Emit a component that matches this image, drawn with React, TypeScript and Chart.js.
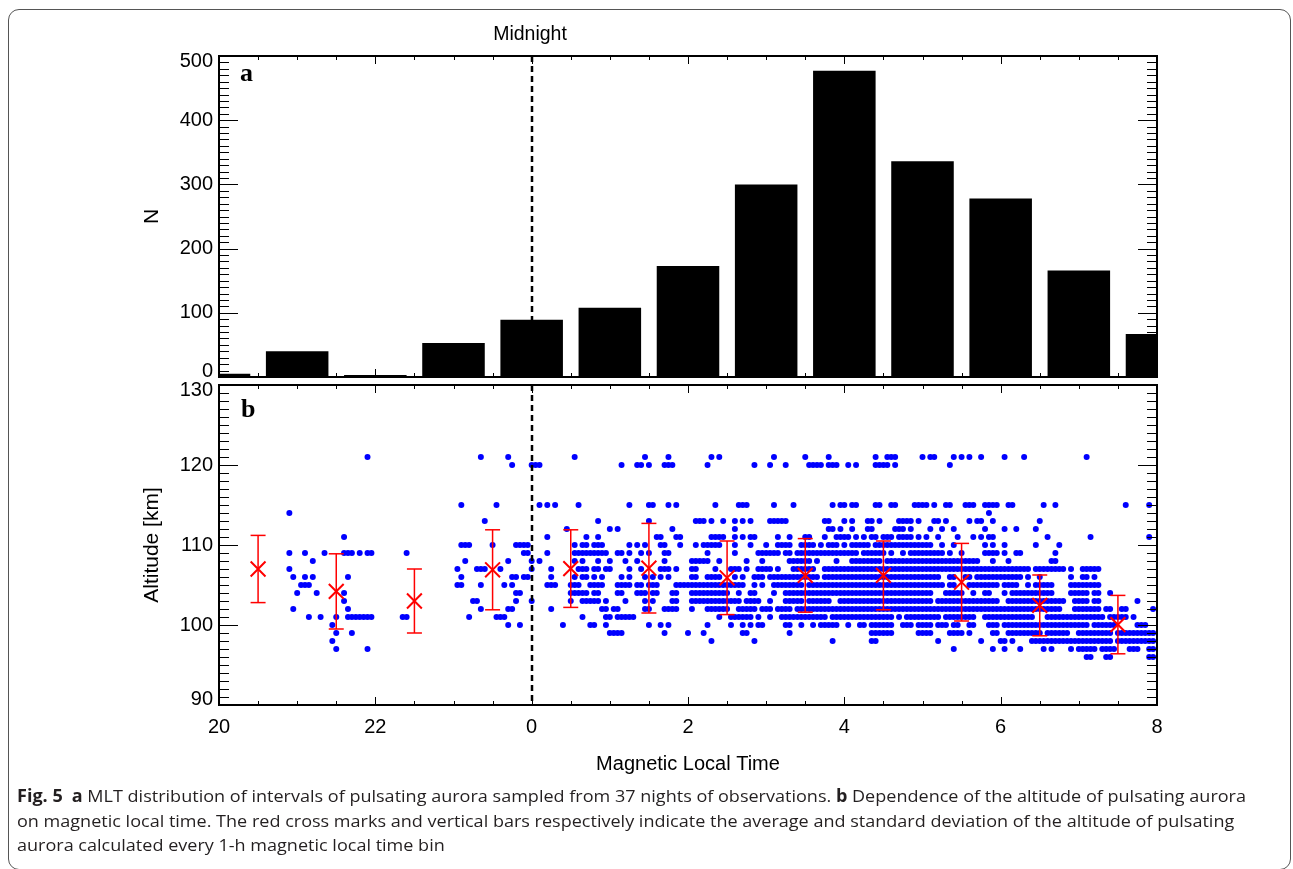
import React, { useEffect, useRef } from "react";
import { Chart, registerables } from "chart.js";

Chart.register(...registerables);

// ---------------- data ----------------
// Panel a: number of intervals per 1-h MLT bin (bins centred on integer hours, 24 = midnight)
const MLT_BINS = [20, 21, 22, 23, 24, 25, 26, 27, 28, 29, 30, 31, 32];
const INTERVAL_COUNTS = [5, 40, 3, 53, 89, 108, 173, 300, 477, 336, 278, 166, 67];

// Axis ticks
const N_TICKS = [0, 100, 200, 300, 400, 500];
const ALT_TICKS = [90, 100, 110, 120, 130];
const MLT_TICKS = [20, 22, 24, 26, 28, 30, 32];
const MLT_TICK_LABELS = ["20", "22", "0", "2", "4", "6", "8"];

// Panel b: mean altitude and standard deviation per 1-h bin
const BIN_CENTERS = [20.5, 21.5, 22.5, 23.5, 24.5, 25.5, 26.5, 27.5, 28.5, 29.5, 30.5, 31.5];
const MEAN_ALTITUDE = [107.0, 104.2, 103.0, 106.9, 107.05, 107.1, 105.9, 106.2, 106.2, 105.35, 102.45, 100.05];
const SD_ALTITUDE = [4.2, 4.7, 4.0, 5.0, 4.85, 5.6, 4.6, 4.6, 4.3, 4.85, 3.8, 3.65];

// Panel b: individual altitude samples. Each row = one altitude level;
// each row has 12 one-hour groups (20h ... 31h), 20 cells of 0.05 h each; 'o' = a dot.
const ROW_HOURS = [20, 21, 22, 23, 24, 25, 26, 27, 28, 29, 30, 31];
const DOT_CELL = 0.05;
const ALT_LEVELS = [121, 120, 115, 114, 113, 112, 111, 110, 109, 108, 107, 106, 105, 104, 103, 102, 101, 100, 99, 98, 97, 96];
const E = "....................";
const F = "oooooooooooooooooooo";
const DOT_ROWS = [
  /*121*/ [E, "..................o.", E, ".......o......o.....", "...........o........", ".........o.....o....", "......o.o...........", "..o.......o.....o...", "........o..ooo......", "o.oo....o.o.o..o....", ".o....o.............", "..o................."],
  /*120*/ [E, E, E, "...............o....", "ooo.................", "...o...oo.o...ooo...", ".....o...........o..", ".o...o.....oooo.ooo.", ".o.o....oooo.o......", ".......o............", E, E],
  /*115*/ [E, E, E, "..o........o........", "..o.o.o.....o.......", ".....o....oo...o.o..", ".......o.....ooo....", "..o....o.........o.o", "o.oo....oo..oo....oo", "oo.o..oo...ooo..oooo", "..oo.......o..o.....", "............o.....o."],
  /*114*/ ["..................o.", E, E, E, E, E, E, E, E, ".................o..", E, E],
  /*113*/ [E, E, E, "........o...........", ".................o..", "..........o.........", "..ooo.o..o..o.o.o...", ".ooooo.........oo...", "o.o...oo.o....oooo.o", "...oo.o.....o.oo..o.", "..........o.........", E],
  /*112*/ [E, E, E, E, ".........o..........", "o.o.............o...", "............o.......", "................oo.o", "..o...oo.....ooo.o..", "..o..o..o.......o...", ".o..o....o..........", E],
  /*111*/ [E, "............o.......", E, E, "....o.........o..o..", "............oo...oo.", "......oooo..o.o.oo..", "...o..o...oo...o..oo", "oo.o.o.oo.ooo.oooo.o", ".o..o....o...o.o.oo.", "............o.......", "...o..............o."],
  /*110*/ [E, E, E, "..ooo.....o.....oooo", "...........o.oo.ooo.", ".....o.o.o...oo...o.", "..o.ooooo...o...o...", "o..oooo..oooo.o.ooo.", "o.ooooo.oooooooooooo", "ooo..o..o.......o.o.", ".o.......o.....o....", E],
  /*109*/ ["..................o.", "..o....o....ooo.o.oo", "........o...........", "..................oo", "....o......ooooooooo", "..oo.o..o.o...oo....", ".....o......o.....oo", "oooo.oo.oooooooooooo", "oooo.oooooo.o..o.ooo", "oooooo.o..o.....oooo", ".o..oo........o.....", E],
  /*108*/ [E, "....o...............", E, "...o..........o.....", "o.o........o.o...o..", "o...o..o......o.....", ".ooooo..o......o...o", "......oooooo.o....o.", "..oooooooo.ooooooooo", "ooooooooooooooo...o.", "..o..........oo.....", E],
  /*107*/ ["..................o.", E, E, ".o....ooo...o.......", "o....o......ooo.oo.o", "o....o..o....ooo.o..", ".oo....o...ooo.o..oo", "oo.o...oooooo..ooooo", F, F, "oooooooo.oooooooo.o.", ".ooooo.............."],
  /*106*/ ["...................o", "..o.o........o......", E, "..o............oo.oo", ".....o.....o.oo.o.o.", "...o.o...o.o.o.o....", ".oo..oooo...o.o..ooo", ".ooooooooooooo.ooooo", F, "ooooo..oo..oo.oooooo", "oooooo.o..o.......o.", ".oo.o..............."],
  /*105*/ [E, ".ooo................", E, ".oo....o.....o.o....", "....ooo...ooo..oooo.", "..oooo.oo.ooo....ooo", "ooooooooooooooo..o.o", "..oooooooo.ooooooooo", F, "oooooo.oo...oooooooo", ".oooo..o.ooooo....oo", "oooooo.............."],
  /*104*/ [E, "o....o......o.......", E, "................oo..", "..........ooooo.oo..", "..oo...ooo.oo...oo..", ".oooooooooo..o..oo..", "..o..ooooooooooooooo", F, "ooo...ooooo..o..oo..", ".o.ooooooooooo....oo", "ooo.oo..o..........."],
  /*103*/ [E, "............o.......", E, ".....oo.........o...", "o.........o..ooooo.o", "....o....o.o....oo..", ".ooooooooooooo.oooo.", ".o...ooooo.oooooo..o", F, "ooo.oooooooooooooooo", "..ooooooooooooooo..o", "ooo.oo.........o...."],
  /*102*/ ["...................o", ".............o......", E, ".......o......oo....", ".....o............oo", ".oo......oo...oooo..", ".o...oooooo..ooooo.o", "oo.oooo.oooooooooooo", F, F, "oooooooooooooooo...o", "oooooo.oo..oo......o"],
  /*101*/ [E, "...o..o...o..ooooooo", ".......oo...........", "....o......ooo......", ".............o.....o", "o.ooooo.............", "........o..oooooo.o.", ".o..oooooooooooo.ooo", "ooooooooooooo.o.oooo", "ooooo.oooooooo..oooo", "ooooooooo...oooooooo", "ooooooo.ooooo.o....."],
  /*100*/ [E, ".........o..........", E, "..............o..o..", "........o......oo..o", "..........o..o.o....", ".....o.....o..o.o.oo", ".....oo..o..o.ooooo.", ".o..oo.oooooo..ooo.o", "ooo.ooo.oo..oo...ooo", ".ooooooooooooooooooo", "ooo.oooooo.....ooo.."],
  /* 99*/ [E, "..........o...o.....", E, E, E, "oooo..........o.....", "o...o.........oo....", "......o.............", ".......oooooo......o", "ooo....oooo.o.....oo", "..ooooooooo.oooooo..", "ooooooooo.oooooooooo"],
  /* 98*/ [E, ".........o..........", E, E, E, E, "......o..........o..", ".................o..", ".......oo...........", "....o..........o....", "oo.o....oooooooooooo", "ooooooooo.oooooooooo"],
  /* 97*/ [E, "..........o.......o.", E, E, E, E, E, E, E, "........o.........o.", ".o...o.....o.o....o.", "ooooo.oooo...ooo..oo"],
  /* 96*/ [E, E, E, E, E, E, E, E, E, E, E, "..oo...oo.........oo"],
];

// ---------------- helpers ----------------
const FONT = "'Liberation Sans', Arial, Helvetica, sans-serif";

function altitudeDots() {
  const pts: { x: number; y: number }[] = [];
  ALT_LEVELS.forEach((alt, r) => {
    DOT_ROWS[r].forEach((grp, g) => {
      for (let j = 0; j < grp.length; j++) {
        if (grp[j] === "o") pts.push({ x: ROW_HOURS[g] + j * DOT_CELL, y: alt });
      }
    });
  });
  return pts;
}

const framePlugin = {
  id: "idlFrame",
  afterDraw(chart: any, _args: any, o: any) {
    const { ctx, chartArea: a } = chart;
    const xs = chart.scales.x;
    const ys = chart.scales.y;
    ctx.save();
    ctx.strokeStyle = "#000";
    ctx.lineWidth = 1;
    ctx.beginPath();
    const ny = Math.round((o.yMax - o.yMin) / o.yMinor);
    const ry = Math.round(o.yMajor / o.yMinor);
    for (let i = 0; i <= ny; i++) {
      const p = Math.round(ys.getPixelForValue(o.yMin + i * o.yMinor)) + 0.5;
      const len = i % ry === 0 ? 19 : 10;
      ctx.moveTo(a.left, p);
      ctx.lineTo(a.left + len, p);
      ctx.moveTo(a.right, p);
      ctx.lineTo(a.right - len, p);
    }
    const nx = Math.round((o.xMax - o.xMin) / o.xMinor);
    const rx = Math.round(o.xMajor / o.xMinor);
    for (let i = 0; i <= nx; i++) {
      const p = Math.round(xs.getPixelForValue(o.xMin + i * o.xMinor)) + 0.5;
      const len = i % rx === 0 ? 8 : 4;
      ctx.moveTo(p, a.top);
      ctx.lineTo(p, a.top + len);
      ctx.moveTo(p, a.bottom);
      ctx.lineTo(p, a.bottom - len);
    }
    ctx.stroke();
    ctx.lineWidth = 2;
    ctx.strokeRect(a.left, a.top, a.right - a.left, a.bottom - a.top);
    const mx = Math.round(xs.getPixelForValue(o.midnight));
    ctx.setLineDash([6, 4]);
    ctx.lineWidth = 2.5;
    ctx.beginPath();
    ctx.moveTo(mx, a.top);
    ctx.lineTo(mx, a.bottom);
    ctx.stroke();
    ctx.restore();
  },
};

function endShiftFont(lowEnd: number, highEnd: number) {
  return (c: any) => {
    const v = c.tick ? c.tick.value : null;
    const isEnd = v === lowEnd || v === highEnd;
    return { family: FONT, size: 20, lineHeight: isEnd ? 0.55 : 1.2 };
  };
}

function endShiftLabel(lowEnd: number, highEnd: number) {
  return (v: number) => {
    if (v === highEnd) return ["", String(v)];
    if (v === lowEnd) return [String(v), ""];
    return String(v);
  };
}

function topConfig(): any {
  return {
    type: "bar",
    data: {
      datasets: [
        {
          data: MLT_BINS.map((h, i) => ({ x: h, y: INTERVAL_COUNTS[i] })),
          backgroundColor: "#000",
          borderWidth: 0,
          barPercentage: 0.8,
          categoryPercentage: 1,
          clip: 0,
        },
      ],
    },
    options: {
      animation: false,
      responsive: false,
      events: [],
      layout: { padding: { left: 135, right: 136, top: 56, bottom: 492 } },
      plugins: {
        legend: { display: false },
        tooltip: { enabled: false },
        idlFrame: { xMin: 20, xMax: 32, xMinor: 0.5, xMajor: 2, yMin: 0, yMax: 500, yMinor: 10, yMajor: 100, midnight: 24 },
      },
      scales: {
        x: { type: "linear", min: 20, max: 32, offset: false, display: false },
        y: {
          type: "linear",
          min: 0,
          max: 500,
          afterBuildTicks: (s: any) => {
            s.ticks = N_TICKS.map((v) => ({ value: v }));
          },
          afterFit: (s: any) => {
            s.width = 84;
          },
          grid: { display: false, drawTicks: false },
          border: { display: false },
          ticks: { padding: 6, color: "#000", font: endShiftFont(0, 500), callback: endShiftLabel(0, 500) },
          title: { display: true, text: "N", color: "#000", font: { family: FONT, size: 21 }, padding: { top: 5, bottom: 0 } },
        },
      },
    },
    plugins: [framePlugin],
  };
}

function bottomConfig(): any {
  const errSegments: any[] = [];
  const caps: any[] = [];
  BIN_CENTERS.forEach((c, i) => {
    const lo = MEAN_ALTITUDE[i] - SD_ALTITUDE[i];
    const hi = MEAN_ALTITUDE[i] + SD_ALTITUDE[i];
    errSegments.push({ x: c, y: lo }, { x: c, y: hi }, { x: c, y: null });
    caps.push({ x: c, y: lo }, { x: c, y: hi });
  });
  return {
    type: "scatter",
    data: {
      datasets: [
        {
          data: BIN_CENTERS.map((c, i) => ({ x: c, y: MEAN_ALTITUDE[i] })),
          pointStyle: "crossRot",
          pointRadius: 10.5,
          pointBorderColor: "#ff0000",
          pointBorderWidth: 2,
          pointBackgroundColor: "#ff0000",
          order: 0,
        },
        {
          data: caps,
          pointStyle: "line",
          pointRadius: 7.5,
          pointBorderColor: "#ff0000",
          pointBorderWidth: 1.5,
          order: 1,
        },
        {
          data: errSegments,
          showLine: true,
          spanGaps: false,
          borderColor: "#ff0000",
          borderWidth: 1.5,
          pointRadius: 0,
          order: 2,
        },
        {
          data: altitudeDots(),
          pointRadius: 3,
          pointBackgroundColor: "#0000ff",
          pointBorderWidth: 0,
          clip: 0,
          order: 3,
        },
      ],
    },
    options: {
      animation: false,
      responsive: false,
      events: [],
      layout: { padding: { left: 135, right: 136, top: 385, bottom: 92 } },
      plugins: {
        legend: { display: false },
        tooltip: { enabled: false },
        idlFrame: { xMin: 20, xMax: 32, xMinor: 0.5, xMajor: 2, yMin: 90, yMax: 130, yMinor: 1, yMajor: 10, midnight: 24 },
      },
      scales: {
        x: {
          type: "linear",
          min: 20,
          max: 32,
          offset: false,
          afterBuildTicks: (s: any) => {
            s.ticks = MLT_TICKS.map((v) => ({ value: v }));
          },
          afterFit: (s: any) => {
            s.height = 72;
          },
          grid: { display: false, drawTicks: false },
          border: { display: false },
          ticks: {
            padding: 10,
            color: "#000",
            autoSkip: false,
            maxRotation: 0,
            minRotation: 0,
            font: { family: FONT, size: 20 },
            callback: (_v: number, i: number) => MLT_TICK_LABELS[i],
          },
          title: { display: true, text: "Magnetic Local Time", color: "#000", font: { family: FONT, size: 20 }, padding: { top: 0, bottom: 1 } },
        },
        y: {
          type: "linear",
          min: 90,
          max: 130,
          afterBuildTicks: (s: any) => {
            s.ticks = ALT_TICKS.map((v) => ({ value: v }));
          },
          afterFit: (s: any) => {
            s.width = 84;
          },
          grid: { display: false, drawTicks: false },
          border: { display: false },
          ticks: { padding: 6, color: "#000", font: endShiftFont(90, 130), callback: endShiftLabel(90, 130) },
          title: { display: true, text: "Altitude [km]", color: "#000", font: { family: FONT, size: 21 }, padding: { top: 5, bottom: 0 } },
        },
      },
    },
    plugins: [framePlugin],
  };
}

export default function App() {
  const topRef = useRef<HTMLCanvasElement>(null);
  const botRef = useRef<HTMLCanvasElement>(null);
  const capRef = useRef<HTMLDivElement>(null);

  useEffect(() => {
    Chart.defaults.font.family = FONT;
    Chart.defaults.color = "#000";
    const top = new Chart(topRef.current as HTMLCanvasElement, topConfig());
    const bot = new Chart(botRef.current as HTMLCanvasElement, bottomConfig());

    const cap = capRef.current;
    if (cap) {
      const lines = Array.from(cap.children) as HTMLElement[];
      const w = lines[0].getBoundingClientRect().width;
      const s = w > 0 ? 1229 / w : 1;
      lines.forEach((l) => {
        l.style.transform = `scaleX(${s})`;
      });
    }
    return () => {
      top.destroy();
      bot.destroy();
    };
  }, []);

  const abs: React.CSSProperties = { position: "absolute" };
  const capLine: React.CSSProperties = {
    whiteSpace: "nowrap",
    width: "max-content",
    transformOrigin: "0 0",
    height: 24.5,
    lineHeight: "24.5px",
  };

  return (
    <div style={{ position: "fixed", left: 0, top: 0, width: 1293, height: 869, background: "#fff", overflow: "hidden" }}>
      <div style={{ ...abs, left: 8, top: 9, width: 1283, height: 861, border: "1px solid #555", borderRadius: 11, boxSizing: "border-box" }} />
      <canvas ref={botRef} width={1293} height={869} style={{ ...abs, left: 0, top: 0, width: 1293, height: 869 }} />
      <canvas ref={topRef} width={1293} height={869} style={{ ...abs, left: 0, top: 0, width: 1293, height: 869 }} />
      <div style={{ ...abs, left: 430, top: 24, width: 200, textAlign: "center", fontFamily: FONT, fontSize: 19.5, lineHeight: 1, color: "#000" }}>Midnight</div>
      <div style={{ ...abs, left: 240, top: 60, fontFamily: "'Liberation Serif', 'Times New Roman', serif", fontWeight: "bold", fontSize: 26, lineHeight: 1, color: "#000" }}>a</div>
      <div style={{ ...abs, left: 241, top: 396, fontFamily: "'Liberation Serif', 'Times New Roman', serif", fontWeight: "bold", fontSize: 26, lineHeight: 1, color: "#000" }}>b</div>
      <div ref={capRef} style={{ ...abs, left: 17, top: 784, fontFamily: "'Open Sans', 'Noto Sans', sans-serif", fontSize: 17, color: "#231f20" }}>
        <div style={capLine}>
          <b>Fig. 5</b>
          {"\u2002"}
          <b>a</b> MLT distribution of intervals of pulsating aurora sampled from 37 nights of observations. <b>b</b> Dependence of the altitude of pulsating aurora
        </div>
        <div style={capLine}>
          on magnetic local time. The red cross marks and vertical bars respectively indicate the average and standard deviation of the altitude of pulsating
        </div>
        <div style={capLine}>aurora calculated every 1-h magnetic local time bin</div>
      </div>
    </div>
  );
}
